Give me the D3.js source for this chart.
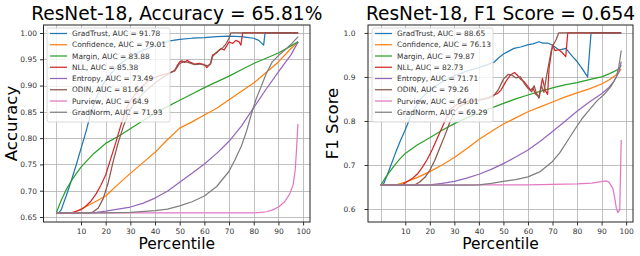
<!DOCTYPE html>
<html>
<head>
<meta charset="utf-8">
<script src="https://cdn.jsdelivr.net/npm/d3@7"></script>
<style>
  body { margin: 0; background: #fff; }
  svg { display: block; font-family: "DejaVu Sans", sans-serif; }
</style>
</head>
<body>
<div id="chart"></div>
<script>
var methods = ["GradTrust", "Confidence", "Margin", "NLL", "Entropy", "ODIN", "Purview", "GradNorm"];
var colors = ["#1f77b4", "#ff7f0e", "#2ca02c", "#d62728", "#9467bd", "#8c564b", "#e377c2", "#7f7f7f"];
var acc_auc = ["91.78", "79.01", "83.88", "85.38", "73.49", "81.64", "64.9", "71.93"];
var f1_auc = ["88.65", "76.13", "79.87", "82.73", "71.71", "79.26", "64.01", "69.29"];
var x_ticks = [10, 20, 30, 40, 50, 60, 70, 80, 90, 100];
var acc_ticks = [0.65, 0.70, 0.75, 0.80, 0.85, 0.90, 0.95, 1.00];
var f1_ticks = [0.6, 0.7, 0.8, 0.9, 1.0];

// accuracy curves, [percentile, accuracy]
var acc_gradtrust = [[0,.658],[1,.658],[2,.664],[4,.69],[6,.718],[8,.748],[10,.78],[12,.812],[14,.848],[16,.875],[18,.895],[20,.91],[25,.938],[30,.955],[35,.967],[40,.976],[46,.985],[50,.988],[55,.99],[60,.991],[65,.993],[70,.994],[75,.993],[78,.991],[80,.99],[82,.986],[84,.977],[84.6,1.0],[90,1.0],[98,1.0]];
var acc_confidence = [[0,.658],[7,.658],[10,.665],[15,.677],[20,.69],[25,.712],[30,.733],[35,.753],[40,.773],[45,.797],[50,.819],[55,.831],[60,.844],[65,.857],[70,.873],[75,.889],[80,.905],[85,.925],[90,.945],[95,.97],[98,.983]];
var acc_margin = [[0,.658],[2,.682],[4,.702],[6,.718],[8,.732],[10,.745],[15,.77],[20,.79],[25,.803],[30,.818],[35,.833],[40,.848],[45,.86],[50,.872],[55,.884],[60,.896],[65,.907],[70,.918],[75,.93],[80,.942],[85,.952],[90,.962],[95,.975],[98,.984]];
var acc_nll = [[0,.658],[6,.658],[8,.661],[10,.664],[12,.671],[14,.68],[16,.693],[18,.71],[20,.73],[22,.76],[24,.79],[26,.822],[28,.852],[30,.872],[34,.895],[38,.912],[42,.919],[46,.924],[48,.929],[49,.938],[50,.945],[51,.947],[52,.944],[53,.948],[54,.945],[56,.941],[58,.942],[60,.94],[61,.934],[62.5,.942],[63.3,.958],[64.6,.961],[66.6,.97],[68,.968],[69,.975],[70,.983],[71.4,.98],[72.8,.986],[74.1,.983],[74.8,.977],[75.5,1.0],[98,1.0]];
var acc_entropy = [[0,.658],[15,.658],[20,.661],[25,.665],[30,.669],[35,.676],[40,.686],[45,.699],[50,.716],[55,.733],[60,.751],[65,.771],[70,.794],[75,.823],[80,.858],[85,.893],[90,.926],[95,.958],[98,.983]];
var acc_odin = [[0,.658],[14,.658],[15,.66],[17,.667],[19,.685],[21,.715],[23,.755],[25,.79],[27,.82],[29,.845],[31,.862],[35,.885],[40,.905],[44,.918],[46,.924],[48,.928],[50,.942],[52,.946],[54,.943],[56,.94],[58,.941],[60,.939],[61.5,.938],[62.5,.941],[63.3,.955],[64.6,.962],[66,.967],[67.5,.972],[68.7,.979],[70,.99],[70.7,1.0],[98,1.0]];
var acc_purview = [[0,.658],[80,.658],[83,.659],[85.3,.66],[88,.664],[90.3,.67],[92.5,.679],[94.7,.695],[96,.712],[96.8,.739],[97.3,.775],[97.9,.827]];
var acc_gradnorm = [[0,.658],[20,.658],[30,.659],[40,.662],[45,.665],[50,.671],[55,.679],[60,.69],[65,.708],[70,.737],[72.5,.76],[75,.785],[77,.812],[79,.845],[81,.875],[83,.898],[85,.922],[87.5,.945],[90,.957],[92.5,.967],[95,.978],[98,.993]];

// f1 curves, [percentile, f1]
var f1_gradtrust = [[0,.654],[1,.655],[2.5,.675],[4,.697],[6,.727],[8,.755],[10,.78],[12,.808],[14,.83],[16,.848],[18,.86],[20,.87],[25,.889],[30,.903],[35,.913],[40,.921],[46,.933],[48,.943],[50,.952],[52,.958],[54.3,.965],[57,.968],[59.8,.973],[62,.975],[64.5,.98],[66,.977],[68,.977],[70,.972],[72.7,.961],[75.4,.965],[78.2,.946],[80,.935],[81.6,.923],[84.3,.9],[85.7,1.0],[98,1.0]];
var f1_confidence = [[0,.654],[5,.654],[7,.656],[10,.661],[15,.672],[20,.685],[25,.7],[30,.717],[35,.737],[40,.758],[45,.776],[50,.793],[55,.807],[60,.821],[65,.832],[70,.843],[75,.854],[80,.864],[85,.873],[90,.884],[93,.893],[96,.905],[98,.918]];
var f1_margin = [[0,.654],[2,.672],[4,.687],[6,.702],[8,.715],[10,.726],[15,.746],[20,.762],[25,.779],[30,.794],[35,.807],[40,.818],[45,.829],[50,.84],[55,.85],[60,.859],[65,.867],[70,.875],[75,.882],[80,.887],[85,.894],[90,.9],[93,.907],[95,.912],[97,.918],[98,.927]];
var f1_nll = [[0,.654],[7,.654],[9,.656],[11,.663],[13,.67],[15,.68],[17,.695],[19,.713],[21,.735],[23,.76],[25,.785],[27,.81],[29,.83],[32,.84],[36,.845],[40,.848],[44,.853],[46,.859],[47.5,.862],[49,.87],[51,.89],[53,.905],[54.5,.91],[55.5,.905],[57,.895],[58.5,.889],[60,.878],[61.1,.87],[62,.875],[63,.862],[64.5,.855],[65.9,.897],[67,.87],[68,.86],[68.6,.92],[70,.973],[71,.96],[72.5,.962],[74,.955],[75.4,.946],[76.2,1.0],[98,1.0]];
var f1_entropy = [[0,.654],[15,.654],[20,.655],[25,.658],[30,.663],[35,.67],[40,.679],[45,.69],[50,.703],[55,.718],[60,.734],[65,.754],[70,.776],[75,.799],[80,.822],[85,.843],[90,.862],[93,.876],[95,.89],[97,.91],[98,.935]];
var f1_odin = [[0,.654],[13,.654],[14,.655],[16,.662],[18,.672],[20,.688],[22,.71],[24,.738],[26,.765],[28,.795],[30,.82],[32,.833],[36,.842],[40,.847],[44,.852],[46,.857],[48,.872],[50,.895],[52,.906],[53.5,.904],[55,.898],[57,.9],[58.5,.885],[60,.874],[61.5,.866],[62.5,.88],[63.5,.862],[64.5,.852],[65.5,.88],[66.5,.865],[67.5,.9],[68.5,.93],[69.5,.96],[70.5,.975],[71.5,.985],[72.5,1.0],[98,1.0]];
var f1_purview = [[0,.654],[40,.655],[60,.655],[80,.657],[86,.659],[89.8,.662],[91.8,.664],[93,.661],[94.6,.647],[95.5,.62],[96,.602],[96.6,.592],[97.4,.598],[98,.757]];
var f1_gradnorm = [[0,.654],[35,.654],[40,.655],[45,.658],[50,.663],[55,.667],[60,.673],[65,.685],[70,.708],[73,.728],[76,.754],[79,.78],[82,.805],[85,.825],[88,.845],[91,.86],[94,.88],[96,.9],[97,.922],[98,.96]];

var acc_series = [acc_gradtrust, acc_confidence, acc_margin, acc_nll, acc_entropy, acc_odin, acc_purview, acc_gradnorm];
var f1_series = [f1_gradtrust, f1_confidence, f1_margin, f1_nll, f1_entropy, f1_odin, f1_purview, f1_gradnorm];

var svg = d3.select("#chart").append("svg")
	.attr("width", 640)
	.attr("height", 256);

var draw_panel = function(p) {
	var x = d3.scaleLinear().domain([-5.19, 102.8]).range([p.left, p.right]);
	var y = d3.scaleLinear().domain(p.yDomain).range([p.bottom, p.top]);
	var g = svg.append("g");

	// grid
	g.append("g").selectAll("line").data([0].concat(x_ticks)).join("line")
		.attr("x1", d => Math.round(x(d)) + 0.5).attr("x2", d => Math.round(x(d)) + 0.5)
		.attr("y1", p.top).attr("y2", p.bottom)
		.style("stroke", "#b0b0b0").style("stroke-width", 0.8);
	g.append("g").selectAll("line").data(p.yTicks).join("line")
		.attr("x1", p.left).attr("x2", p.right)
		.attr("y1", d => Math.round(y(d)) + 0.5).attr("y2", d => Math.round(y(d)) + 0.5)
		.style("stroke", "#b0b0b0").style("stroke-width", 0.8);

	// lines
	var clipId = "clip" + p.id;
	svg.append("clipPath").attr("id", clipId).append("rect")
		.attr("x", p.left).attr("y", p.top)
		.attr("width", p.right - p.left).attr("height", p.bottom - p.top);
	var line = d3.line().x(d => x(d[0])).y(d => y(d[1]));
	g.append("g").attr("clip-path", "url(#" + clipId + ")")
		.selectAll("path").data(p.series).join("path")
		.attr("d", line)
		.style("fill", "none")
		.style("stroke", (d, i) => colors[i])
		.style("stroke-width", 1.25)
		.style("stroke-linejoin", "round");

	// axes
	var xAxis = d3.axisBottom(x).tickValues(x_ticks).tickSize(3.5).tickPadding(3);
	var gx = g.append("g").attr("transform", "translate(0," + p.bottom + ")").call(xAxis);
	var yAxis = d3.axisLeft(y).tickValues(p.yTicks).tickFormat(d3.format(p.fmt)).tickSize(3.5).tickPadding(p.ypad);
	var gy = g.append("g").attr("transform", "translate(" + p.left + ",0)").call(yAxis);
	[gx, gy].forEach(function(a) {
		a.select(".domain").remove();
		a.selectAll("text").style("font-size", "7.5px").style("fill", "#333").style("font-family", "DejaVu Sans");
		a.selectAll(".tick line").style("stroke", "#333");
	});

	g.append("rect")
		.attr("x", p.left).attr("y", p.top)
		.attr("width", p.right - p.left).attr("height", p.bottom - p.top)
		.style("fill", "none").style("stroke", "#222").style("stroke-width", 1);

	// legend
	var lg = g.append("g");
	lg.append("rect")
		.attr("x", p.lx).attr("y", p.top + 3)
		.attr("width", p.lw).attr("height", 94)
		.attr("rx", 2)
		.style("fill", "#fff").style("fill-opacity", 0.8)
		.style("stroke", "#d0d0d0").style("stroke-width", 0.8);
	var rows = lg.selectAll("g.row").data(methods).join("g")
		.attr("class", "row")
		.attr("transform", (d, i) => "translate(" + (p.lx + 3) + "," + (p.top + 8.5 + i * 11.25) + ")");
	rows.append("line")
		.attr("x1", 0).attr("x2", 17).attr("y1", 0).attr("y2", 0)
		.style("stroke", (d, i) => colors[i]).style("stroke-width", 1.25);
	rows.append("text")
		.attr("x", 22).attr("y", 2.7)
		.style("font-size", "7.4px").style("fill", "#333")
		.text((d, i) => d + ", AUC = " + p.aucs[i]);

	// labels
	svg.append("text")
		.attr("x", (p.left + p.right) / 2).attr("y", 20)
		.attr("text-anchor", "middle")
		.style("font-size", "18.6px").style("fill", "#000")
		.text(p.title);
	svg.append("text")
		.attr("x", (p.left + p.right) / 2).attr("y", 249)
		.attr("text-anchor", "middle")
		.style("font-size", "15.5px").style("fill", "#000")
		.text("Percentile");
	svg.append("text")
		.attr("transform", "translate(" + p.ylx + "," + ((p.top + p.bottom) / 2) + ") rotate(-90)")
		.attr("text-anchor", "middle")
		.style("font-size", "16.5px").style("fill", "#000")
		.text(p.ylabel);
};

draw_panel({
	id: "a", left: 43.5, right: 310, top: 25, bottom: 222,
	yDomain: [0.6405, 1.0152], yTicks: acc_ticks, fmt: ".2f", ypad: 3,
	series: acc_series, aucs: acc_auc,
	title: "ResNet-18, Accuracy = 65.81%", ylabel: "Accuracy", ylx: 17,
	lx: 47, lw: 123
});
draw_panel({
	id: "b", left: 368, right: 633, top: 25, bottom: 222,
	yDomain: [0.5705, 1.018], yTicks: f1_ticks, fmt: ".1f", ypad: 9,
	series: f1_series, aucs: f1_auc,
	title: "ResNet-18, F1 Score = 0.654", ylabel: "F1 Score", ylx: 338,
	lx: 372, lw: 121
});
</script>
</body>
</html>
